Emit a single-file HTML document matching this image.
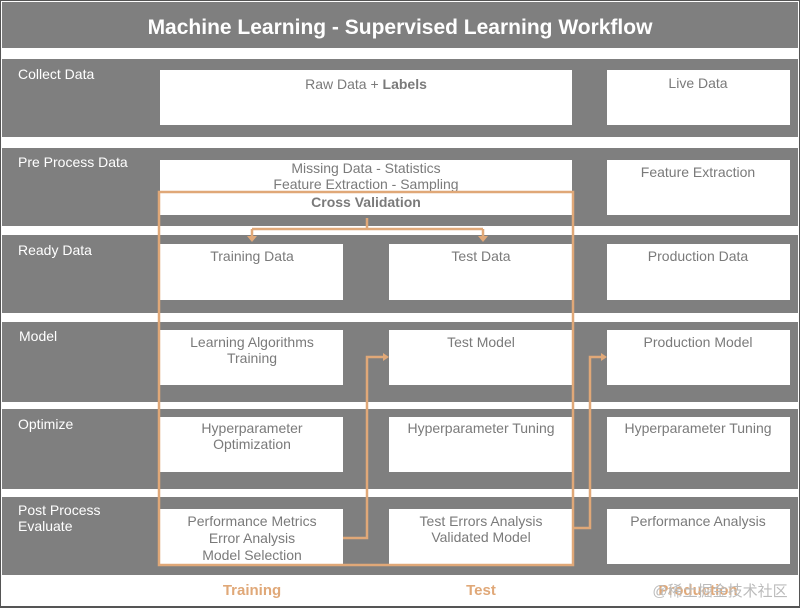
<!DOCTYPE html>
<html><head><style>body{margin:0;background:#fff}svg{display:block}</style></head><body>
<svg width="800" height="608" xmlns="http://www.w3.org/2000/svg" font-family="'Liberation Sans', 'DejaVu Sans', sans-serif">
<rect x="0" y="0" width="800" height="608" fill="#fff"/>
<rect x="0" y="0" width="800" height="607" fill="none" stroke="#555" stroke-width="2"/>
<rect x="2" y="2" width="796" height="46" fill="#7f7f7f"/>
<text x="400" y="34" text-anchor="middle" font-size="21" font-weight="bold" fill="#fff">Machine Learning - Supervised Learning Workflow</text>
<g fill="#7f7f7f">
<rect x="2" y="59" width="796" height="78"/>
<rect x="2" y="148" width="796" height="78"/>
<rect x="2" y="235" width="796" height="78"/>
<rect x="2" y="322" width="796" height="80"/>
<rect x="2" y="409" width="796" height="80"/>
<rect x="2" y="497" width="796" height="78"/>
</g>
<g fill="#fff" font-size="14">
<text x="18" y="79">Collect Data</text>
<text x="18" y="167">Pre Process Data</text>
<text x="18" y="255">Ready Data</text>
<text x="19" y="341">Model</text>
<text x="18" y="429">Optimize</text>
<text x="18" y="515">Post Process</text>
<text x="18" y="531">Evaluate</text>
</g>
<g fill="#fff">
<rect x="160" y="70" width="412" height="55"/>
<rect x="607" y="70" width="183" height="55"/>
<rect x="160" y="160" width="412" height="55"/>
<rect x="607" y="160" width="183" height="55"/>
<rect x="160" y="244" width="183" height="56"/>
<rect x="389" y="244" width="183" height="56"/>
<rect x="607" y="244" width="183" height="56"/>
<rect x="160" y="330" width="183" height="55"/>
<rect x="389" y="330" width="183" height="55"/>
<rect x="607" y="330" width="183" height="55"/>
<rect x="160" y="417" width="183" height="55"/>
<rect x="389" y="417" width="183" height="55"/>
<rect x="607" y="417" width="183" height="55"/>
<rect x="160" y="509" width="183" height="55"/>
<rect x="389" y="509" width="183" height="55"/>
<rect x="607" y="509" width="183" height="55"/>
</g>
<g fill="#7a7a7a" font-size="14" text-anchor="middle">
<text x="366" y="89">Raw  Data + <tspan font-weight="bold">Labels</tspan></text>
<text x="698" y="88">Live Data</text>
<text x="366" y="173">Missing Data - Statistics</text>
<text x="366" y="189">Feature Extraction - Sampling</text>
<text x="366" y="207" font-weight="bold">Cross Validation</text>
<text x="698" y="177">Feature Extraction</text>
<text x="252" y="261">Training Data</text>
<text x="481" y="261">Test Data</text>
<text x="698" y="261">Production Data</text>
<text x="252" y="347">Learning Algorithms</text>
<text x="252" y="363">Training</text>
<text x="481" y="347">Test Model</text>
<text x="698" y="347">Production Model</text>
<text x="252" y="433">Hyperparameter</text>
<text x="252" y="449">Optimization</text>
<text x="481" y="433">Hyperparameter Tuning</text>
<text x="698" y="433">Hyperparameter Tuning</text>
<text x="252" y="526">Performance Metrics</text>
<text x="252" y="543">Error Analysis</text>
<text x="252" y="560">Model Selection</text>
<text x="481" y="526">Test Errors Analysis</text>
<text x="481" y="542">Validated Model</text>
<text x="698" y="526">Performance Analysis</text>
</g>
<g fill="none" stroke="#e0a878" stroke-width="2.5">
<rect x="159" y="192" width="414" height="373"/>
<path d="M367 218 V229 M252 229 H483 M252 229 V238 M483 229 V238"/>
<path d="M343 538 H367 V357 H384"/>
<path d="M573 528 H590 V357 H602"/>
</g>
<g fill="#e0a878">
<path d="M247 236 L257 236 L252 242 Z"/>
<path d="M478 236 L488 236 L483 242 Z"/>
<path d="M383 353 L389 357 L383 361 Z"/>
<path d="M601 353 L607 357 L601 361 Z"/>
</g>
<g fill="#e0a878" font-size="15" font-weight="bold" text-anchor="middle">
<text x="252" y="595">Training</text>
<text x="481" y="595">Test</text>
<text x="698" y="595">Production</text>
</g>
<text x="720" y="596" text-anchor="middle" font-size="15" fill="#bbb" font-family="'Liberation Sans','Noto Sans CJK SC',sans-serif">@稀土掘金技术社区</text>
</svg>
</body></html>
